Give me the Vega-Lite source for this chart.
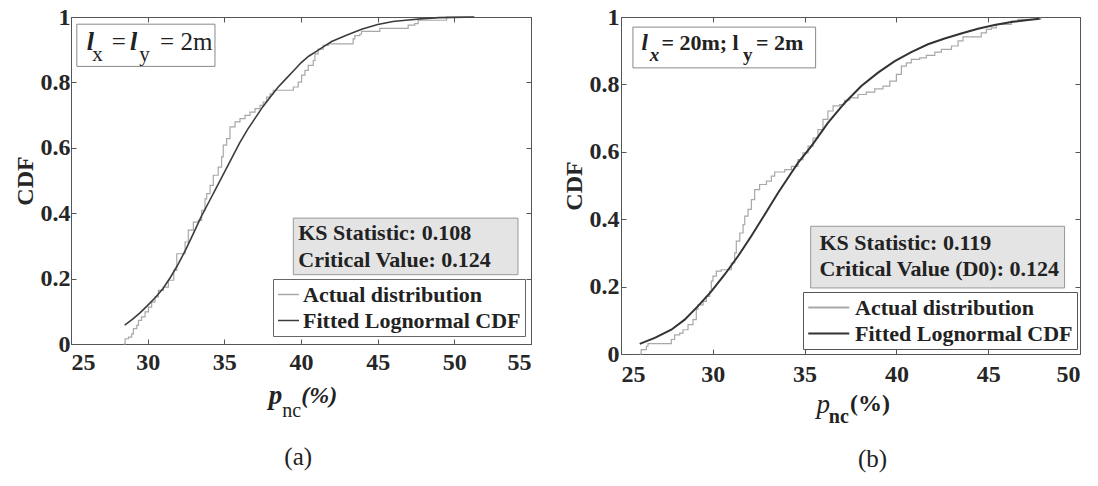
{
  "$schema": "https://vega.github.io/schema/vega-lite/v6.json",
  "background": "white",
  "padding": {"left": 12, "top": 4, "right": 5, "bottom": 5},
  "spacing": 29,
  "datasets": {
    "a_actual": [
      {"series":"Actual distribution","p":28.42,"cdf":0},{"series":"Actual distribution","p":28.53,"cdf":0.016},{"series":"Actual distribution","p":28.75,"cdf":0.021},{"series":"Actual distribution","p":28.96,"cdf":0.031},{"series":"Actual distribution","p":29.07,"cdf":0.047},{"series":"Actual distribution","p":29.29,"cdf":0.057},{"series":"Actual distribution","p":29.4,"cdf":0.072},{"series":"Actual distribution","p":29.6,"cdf":0.083},{"series":"Actual distribution","p":29.83,"cdf":0.098},{"series":"Actual distribution","p":30.05,"cdf":0.113},{"series":"Actual distribution","p":30.26,"cdf":0.128},{"series":"Actual distribution","p":30.48,"cdf":0.144},{"series":"Actual distribution","p":30.7,"cdf":0.164},{"series":"Actual distribution","p":31.03,"cdf":0.174},{"series":"Actual distribution","p":31.35,"cdf":0.195},{"series":"Actual distribution","p":31.7,"cdf":0.225},{"series":"Actual distribution","p":31.9,"cdf":0.276},{"series":"Actual distribution","p":32.44,"cdf":0.312},{"series":"Actual distribution","p":32.65,"cdf":0.348},{"series":"Actual distribution","p":32.98,"cdf":0.373},{"series":"Actual distribution","p":33.3,"cdf":0.378},{"series":"Actual distribution","p":33.52,"cdf":0.409},{"series":"Actual distribution","p":33.74,"cdf":0.444},{"series":"Actual distribution","p":33.85,"cdf":0.46},{"series":"Actual distribution","p":34.07,"cdf":0.485},{"series":"Actual distribution","p":34.28,"cdf":0.516},{"series":"Actual distribution","p":34.6,"cdf":0.541},{"series":"Actual distribution","p":34.82,"cdf":0.572},{"series":"Actual distribution","p":34.93,"cdf":0.608},{"series":"Actual distribution","p":35.15,"cdf":0.628},{"series":"Actual distribution","p":35.37,"cdf":0.664},{"series":"Actual distribution","p":35.7,"cdf":0.679},{"series":"Actual distribution","p":36.02,"cdf":0.689},{"series":"Actual distribution","p":36.35,"cdf":0.699},{"series":"Actual distribution","p":36.67,"cdf":0.709},{"series":"Actual distribution","p":37.0,"cdf":0.72},{"series":"Actual distribution","p":37.33,"cdf":0.73},{"series":"Actual distribution","p":37.54,"cdf":0.74},{"series":"Actual distribution","p":37.76,"cdf":0.755},{"series":"Actual distribution","p":37.98,"cdf":0.765},{"series":"Actual distribution","p":38.19,"cdf":0.776},{"series":"Actual distribution","p":39.5,"cdf":0.786},{"series":"Actual distribution","p":39.82,"cdf":0.801},{"series":"Actual distribution","p":40.04,"cdf":0.822},{"series":"Actual distribution","p":40.26,"cdf":0.837},{"series":"Actual distribution","p":40.47,"cdf":0.852},{"series":"Actual distribution","p":40.8,"cdf":0.867},{"series":"Actual distribution","p":40.91,"cdf":0.887},{"series":"Actual distribution","p":41.12,"cdf":0.902},{"series":"Actual distribution","p":41.45,"cdf":0.913},{"series":"Actual distribution","p":41.78,"cdf":0.918},{"series":"Actual distribution","p":43.4,"cdf":0.933},{"series":"Actual distribution","p":43.51,"cdf":0.943},{"series":"Actual distribution","p":43.84,"cdf":0.948},{"series":"Actual distribution","p":43.95,"cdf":0.956},{"series":"Actual distribution","p":45.14,"cdf":0.965},{"series":"Actual distribution","p":46.99,"cdf":0.975},{"series":"Actual distribution","p":47.42,"cdf":0.98},{"series":"Actual distribution","p":47.64,"cdf":0.99},{"series":"Actual distribution","p":49.49,"cdf":1.0},{"series":"Actual distribution","p":51.3,"cdf":1.0}
    ],
    "a_fit": [
      {"series":"Fitted Lognormal CDF","p":28.5,"cdf":0.058},{"series":"Fitted Lognormal CDF","p":29.0,"cdf":0.075},{"series":"Fitted Lognormal CDF","p":29.5,"cdf":0.095},{"series":"Fitted Lognormal CDF","p":30.0,"cdf":0.118},{"series":"Fitted Lognormal CDF","p":30.5,"cdf":0.142},{"series":"Fitted Lognormal CDF","p":31.0,"cdf":0.17},{"series":"Fitted Lognormal CDF","p":31.5,"cdf":0.205},{"series":"Fitted Lognormal CDF","p":32.0,"cdf":0.245},{"series":"Fitted Lognormal CDF","p":32.5,"cdf":0.29},{"series":"Fitted Lognormal CDF","p":33.0,"cdf":0.34},{"series":"Fitted Lognormal CDF","p":33.5,"cdf":0.39},{"series":"Fitted Lognormal CDF","p":34.0,"cdf":0.435},{"series":"Fitted Lognormal CDF","p":34.5,"cdf":0.48},{"series":"Fitted Lognormal CDF","p":35.0,"cdf":0.525},{"series":"Fitted Lognormal CDF","p":35.5,"cdf":0.57},{"series":"Fitted Lognormal CDF","p":36.0,"cdf":0.615},{"series":"Fitted Lognormal CDF","p":36.5,"cdf":0.655},{"series":"Fitted Lognormal CDF","p":37.0,"cdf":0.69},{"series":"Fitted Lognormal CDF","p":37.5,"cdf":0.725},{"series":"Fitted Lognormal CDF","p":38.0,"cdf":0.755},{"series":"Fitted Lognormal CDF","p":38.5,"cdf":0.785},{"series":"Fitted Lognormal CDF","p":39.0,"cdf":0.81},{"series":"Fitted Lognormal CDF","p":39.5,"cdf":0.835},{"series":"Fitted Lognormal CDF","p":40.0,"cdf":0.86},{"series":"Fitted Lognormal CDF","p":40.5,"cdf":0.88},{"series":"Fitted Lognormal CDF","p":41.0,"cdf":0.895},{"series":"Fitted Lognormal CDF","p":41.5,"cdf":0.91},{"series":"Fitted Lognormal CDF","p":42.0,"cdf":0.925},{"series":"Fitted Lognormal CDF","p":43.0,"cdf":0.945},{"series":"Fitted Lognormal CDF","p":44.0,"cdf":0.963},{"series":"Fitted Lognormal CDF","p":45.0,"cdf":0.977},{"series":"Fitted Lognormal CDF","p":46.0,"cdf":0.986},{"series":"Fitted Lognormal CDF","p":47.0,"cdf":0.991},{"series":"Fitted Lognormal CDF","p":48.0,"cdf":0.995},{"series":"Fitted Lognormal CDF","p":49.0,"cdf":0.998},{"series":"Fitted Lognormal CDF","p":50.0,"cdf":0.999},{"series":"Fitted Lognormal CDF","p":51.3,"cdf":1.0}
    ],
    "b_actual": [
      {"series":"Actual distribution","p":26.02,"cdf":0},{"series":"Actual distribution","p":26.1,"cdf":0.013},{"series":"Actual distribution","p":26.38,"cdf":0.023},{"series":"Actual distribution","p":26.47,"cdf":0.031},{"series":"Actual distribution","p":27.74,"cdf":0.043},{"series":"Actual distribution","p":27.92,"cdf":0.057},{"series":"Actual distribution","p":28.2,"cdf":0.062},{"series":"Actual distribution","p":28.38,"cdf":0.072},{"series":"Actual distribution","p":28.65,"cdf":0.087},{"series":"Actual distribution","p":28.92,"cdf":0.102},{"series":"Actual distribution","p":29.1,"cdf":0.132},{"series":"Actual distribution","p":29.19,"cdf":0.146},{"series":"Actual distribution","p":29.47,"cdf":0.156},{"series":"Actual distribution","p":29.65,"cdf":0.171},{"series":"Actual distribution","p":29.83,"cdf":0.186},{"series":"Actual distribution","p":29.92,"cdf":0.216},{"series":"Actual distribution","p":30.01,"cdf":0.231},{"series":"Actual distribution","p":30.19,"cdf":0.246},{"series":"Actual distribution","p":30.46,"cdf":0.25},{"series":"Actual distribution","p":31.01,"cdf":0.27},{"series":"Actual distribution","p":31.19,"cdf":0.3},{"series":"Actual distribution","p":31.28,"cdf":0.335},{"series":"Actual distribution","p":31.47,"cdf":0.359},{"series":"Actual distribution","p":31.65,"cdf":0.384},{"series":"Actual distribution","p":31.74,"cdf":0.409},{"series":"Actual distribution","p":31.92,"cdf":0.429},{"series":"Actual distribution","p":32.1,"cdf":0.458},{"series":"Actual distribution","p":32.28,"cdf":0.488},{"series":"Actual distribution","p":32.55,"cdf":0.503},{"series":"Actual distribution","p":32.92,"cdf":0.513},{"series":"Actual distribution","p":33.19,"cdf":0.528},{"series":"Actual distribution","p":33.37,"cdf":0.54},{"series":"Actual distribution","p":33.92,"cdf":0.547},{"series":"Actual distribution","p":34.28,"cdf":0.557},{"series":"Actual distribution","p":34.64,"cdf":0.577},{"series":"Actual distribution","p":34.91,"cdf":0.597},{"series":"Actual distribution","p":35.19,"cdf":0.617},{"series":"Actual distribution","p":35.46,"cdf":0.641},{"series":"Actual distribution","p":35.73,"cdf":0.666},{"series":"Actual distribution","p":36.0,"cdf":0.696},{"series":"Actual distribution","p":36.27,"cdf":0.721},{"series":"Actual distribution","p":36.55,"cdf":0.736},{"series":"Actual distribution","p":36.91,"cdf":0.74},{"series":"Actual distribution","p":37.18,"cdf":0.753},{"series":"Actual distribution","p":37.46,"cdf":0.76},{"series":"Actual distribution","p":37.91,"cdf":0.77},{"series":"Actual distribution","p":38.36,"cdf":0.777},{"series":"Actual distribution","p":38.82,"cdf":0.787},{"series":"Actual distribution","p":39.27,"cdf":0.795},{"series":"Actual distribution","p":39.64,"cdf":0.81},{"series":"Actual distribution","p":40.0,"cdf":0.83},{"series":"Actual distribution","p":40.27,"cdf":0.854},{"series":"Actual distribution","p":40.54,"cdf":0.864},{"series":"Actual distribution","p":40.81,"cdf":0.874},{"series":"Actual distribution","p":41.27,"cdf":0.879},{"series":"Actual distribution","p":41.63,"cdf":0.886},{"series":"Actual distribution","p":42.09,"cdf":0.896},{"series":"Actual distribution","p":42.45,"cdf":0.904},{"series":"Actual distribution","p":43.0,"cdf":0.914},{"series":"Actual distribution","p":43.36,"cdf":0.929},{"series":"Actual distribution","p":43.63,"cdf":0.941},{"series":"Actual distribution","p":44.62,"cdf":0.953},{"series":"Actual distribution","p":44.9,"cdf":0.963},{"series":"Actual distribution","p":45.17,"cdf":0.968},{"series":"Actual distribution","p":45.44,"cdf":0.978},{"series":"Actual distribution","p":46.26,"cdf":0.988},{"series":"Actual distribution","p":46.62,"cdf":0.993},{"series":"Actual distribution","p":47.86,"cdf":0.998}
    ],
    "b_fit": [
      {"series":"Fitted Lognormal CDF","p":26.02,"cdf":0.03},{"series":"Fitted Lognormal CDF","p":26.84,"cdf":0.048},{"series":"Fitted Lognormal CDF","p":27.74,"cdf":0.072},{"series":"Fitted Lognormal CDF","p":28.47,"cdf":0.102},{"series":"Fitted Lognormal CDF","p":29.19,"cdf":0.142},{"series":"Fitted Lognormal CDF","p":29.92,"cdf":0.186},{"series":"Fitted Lognormal CDF","p":30.65,"cdf":0.236},{"series":"Fitted Lognormal CDF","p":31.37,"cdf":0.29},{"series":"Fitted Lognormal CDF","p":32.1,"cdf":0.35},{"series":"Fitted Lognormal CDF","p":32.83,"cdf":0.414},{"series":"Fitted Lognormal CDF","p":33.55,"cdf":0.478},{"series":"Fitted Lognormal CDF","p":34.28,"cdf":0.538},{"series":"Fitted Lognormal CDF","p":34.64,"cdf":0.567},{"series":"Fitted Lognormal CDF","p":35.37,"cdf":0.617},{"series":"Fitted Lognormal CDF","p":36.27,"cdf":0.686},{"series":"Fitted Lognormal CDF","p":37.18,"cdf":0.745},{"series":"Fitted Lognormal CDF","p":38.09,"cdf":0.795},{"series":"Fitted Lognormal CDF","p":39.0,"cdf":0.835},{"series":"Fitted Lognormal CDF","p":39.91,"cdf":0.869},{"series":"Fitted Lognormal CDF","p":40.81,"cdf":0.896},{"series":"Fitted Lognormal CDF","p":41.72,"cdf":0.919},{"series":"Fitted Lognormal CDF","p":42.63,"cdf":0.936},{"series":"Fitted Lognormal CDF","p":43.53,"cdf":0.951},{"series":"Fitted Lognormal CDF","p":44.44,"cdf":0.965},{"series":"Fitted Lognormal CDF","p":45.35,"cdf":0.976},{"series":"Fitted Lognormal CDF","p":46.26,"cdf":0.985},{"series":"Fitted Lognormal CDF","p":47.17,"cdf":0.991},{"series":"Fitted Lognormal CDF","p":47.8,"cdf":0.995}
    ]
  },
  "hconcat": [
    {
      "width": 460,
      "height": 327,
      "layer": [
        {"data":{"values":[{}]},"mark":{"type":"rect","fill":"#e4e4e4","stroke":"#999999","strokeWidth":1},
         "encoding":{"x":{"datum":39.5,"type":"quantitative","axis":{"orient":"top","labels":false,"title":null,"values":[25,30,35,40,45,50,55]}},"x2":{"datum":54.15},
                     "y":{"datum":0.385,"type":"quantitative","axis":{"orient":"right","labels":false,"title":null,"values":[0,0.2,0.4,0.6,0.8,1]}},"y2":{"datum":0.212}}},
        {"data":{"values":[{}]},"mark":{"type":"text","text":["KS Statistic: 0.108","Critical Value: 0.124"],"fontSize":22,"fontWeight":"bold","align":"left","baseline":"alphabetic","lineHeight":26.7},
         "encoding":{"x":{"datum":39.82,"type":"quantitative","axis":null},"y":{"datum":0.317,"type":"quantitative","axis":null}}},
        {"data":{"values":[{}]},"mark":{"type":"rect","fill":"white","stroke":"#888888","strokeWidth":1},
         "encoding":{"x":{"datum":25.38,"type":"quantitative","axis":null},"x2":{"datum":34.39},"y":{"datum":0.978,"type":"quantitative","axis":null},"y2":{"datum":0.849}}},
        {"data":{"values":[{}]},"mark":{"type":"text","text":"l","fontSize":26,"fontWeight":"bold","fontStyle":"italic","align":"left","baseline":"alphabetic"},
         "encoding":{"x":{"datum":26.03,"type":"quantitative","axis":null},"y":{"datum":0.9,"type":"quantitative","axis":null}}},
        {"data":{"values":[{}]},"mark":{"type":"text","text":"x","fontSize":21,"align":"left","baseline":"alphabetic"},
         "encoding":{"x":{"datum":26.39,"type":"quantitative","axis":null},"y":{"datum":0.8645,"type":"quantitative","axis":null}}},
        {"data":{"values":[{}]},"mark":{"type":"text","text":"=","fontSize":25,"align":"left","baseline":"alphabetic"},
         "encoding":{"x":{"datum":27.65,"type":"quantitative","axis":null},"y":{"datum":0.9,"type":"quantitative","axis":null}}},
        {"data":{"values":[{}]},"mark":{"type":"text","text":"l","fontSize":26,"fontWeight":"bold","fontStyle":"italic","align":"left","baseline":"alphabetic"},
         "encoding":{"x":{"datum":28.85,"type":"quantitative","axis":null},"y":{"datum":0.9,"type":"quantitative","axis":null}}},
        {"data":{"values":[{}]},"mark":{"type":"text","text":"y","fontSize":21,"align":"left","baseline":"alphabetic"},
         "encoding":{"x":{"datum":29.45,"type":"quantitative","axis":null},"y":{"datum":0.8645,"type":"quantitative","axis":null}}},
        {"data":{"values":[{}]},"mark":{"type":"text","text":"= 2m","fontSize":25,"align":"left","baseline":"alphabetic"},
         "encoding":{"x":{"datum":30.81,"type":"quantitative","axis":null},"y":{"datum":0.9,"type":"quantitative","axis":null}}},
        {"data":{"name":"a_actual"},"mark":{"type":"line","interpolate":"step-after","strokeWidth":1.2},
         "encoding":{
           "x":{"field":"p","type":"quantitative","scale":{"domain":[25,55],"nice":false,"zero":false},"axis":{"orient":"bottom","values":[25,30,35,40,45,50,55],"title":null,"labelPadding":11}},
           "y":{"field":"cdf","type":"quantitative","scale":{"domain":[0,1],"nice":false,"zero":false},"axis":{"orient":"left","values":[0,0.2,0.4,0.6,0.8,1],"format":"~g","title":"CDF","titlePadding":3,"labelPadding":6}},
           "color":{"field":"series","type":"nominal","scale":{"domain":["Actual distribution","Fitted Lognormal CDF"],"range":["#a8a8a8","#3c3c3c"]},
             "legend":{"title":null,"orient":"none","legendX":202,"legendY":262,"symbolType":"stroke","symbolSize":441,"symbolStrokeWidth":1.5,"labelFont":"Liberation Serif","labelFontSize":22,"labelFontWeight":"bold","labelColor":"#222222","labelOffset":3,"padding":4,"rowPadding":3,"strokeColor":"#666666","fillColor":"white","labelLimit":400}}}},
        {"data":{"name":"a_fit"},"mark":{"type":"line","strokeWidth":1.6},
         "encoding":{
           "x":{"field":"p","type":"quantitative","axis":null},
           "y":{"field":"cdf","type":"quantitative","axis":null},
           "color":{"field":"series","type":"nominal"}}},
        {"data":{"values":[{}]},"mark":{"type":"text","text":"p","fontSize":27,"fontWeight":"bold","fontStyle":"italic","align":"left","baseline":"alphabetic"},
         "encoding":{"x":{"datum":37.9,"type":"quantitative","axis":null},"y":{"datum":-0.183,"type":"quantitative","axis":null}}},
        {"data":{"values":[{}]},"mark":{"type":"text","text":"nc","fontSize":20,"align":"left","baseline":"alphabetic"},
         "encoding":{"x":{"datum":38.78,"type":"quantitative","axis":null},"y":{"datum":-0.223,"type":"quantitative","axis":null}}},
        {"data":{"values":[{}]},"mark":{"type":"text","text":"(%)","fontSize":24,"fontWeight":"bold","fontStyle":"italic","align":"left","baseline":"alphabetic"},
         "encoding":{"x":{"datum":40.02,"type":"quantitative","axis":null},"y":{"datum":-0.18,"type":"quantitative","axis":null}}},
        {"data":{"values":[{}]},"mark":{"type":"text","text":"(a)","fontSize":25,"align":"center","baseline":"alphabetic"},
         "encoding":{"x":{"datum":39.82,"type":"quantitative","axis":null},"y":{"datum":-0.37,"type":"quantitative","axis":null}}}
      ],
      "resolve": {"axis": {"x": "independent", "y": "independent"}}
    },
    {
      "width": 459,
      "height": 337,
      "layer": [
        {"data":{"values":[{}]},"mark":{"type":"rect","fill":"#e4e4e4","stroke":"#999999","strokeWidth":1},
         "encoding":{"x":{"datum":35.33,"type":"quantitative","axis":{"orient":"top","labels":false,"title":null,"values":[25,30,35,40,45,50]}},"x2":{"datum":49.16},
                     "y":{"datum":0.379,"type":"quantitative","axis":{"orient":"right","labels":false,"title":null,"values":[0,0.2,0.4,0.6,0.8,1]}},"y2":{"datum":0.196}}},
        {"data":{"values":[{}]},"mark":{"type":"text","text":["KS Statistic: 0.119","Critical Value (D0): 0.124"],"fontSize":22,"fontWeight":"bold","align":"left","baseline":"alphabetic","lineHeight":26.7},
         "encoding":{"x":{"datum":35.81,"type":"quantitative","axis":null},"y":{"datum":0.31,"type":"quantitative","axis":null}}},
        {"data":{"values":[{}]},"mark":{"type":"rect","fill":"white","stroke":"#888888","strokeWidth":1},
         "encoding":{"x":{"datum":25.65,"type":"quantitative","axis":null},"x2":{"datum":35.6},"y":{"datum":0.97,"type":"quantitative","axis":null},"y2":{"datum":0.849}}},
        {"data":{"values":[{}]},"mark":{"type":"text","text":"l","fontSize":23,"fontWeight":"bold","fontStyle":"italic","align":"left","baseline":"alphabetic"},
         "encoding":{"x":{"datum":26.11,"type":"quantitative","axis":null},"y":{"datum":0.902,"type":"quantitative","axis":null}}},
        {"data":{"values":[{}]},"mark":{"type":"text","text":"x","fontSize":19,"fontWeight":"bold","fontStyle":"italic","align":"left","baseline":"alphabetic"},
         "encoding":{"x":{"datum":26.56,"type":"quantitative","axis":null},"y":{"datum":0.869,"type":"quantitative","axis":null}}},
        {"data":{"values":[{}]},"mark":{"type":"text","text":"= 20m; l","fontSize":22,"fontWeight":"bold","align":"left","baseline":"alphabetic"},
         "encoding":{"x":{"datum":27.2,"type":"quantitative","axis":null},"y":{"datum":0.902,"type":"quantitative","axis":null}}},
        {"data":{"values":[{}]},"mark":{"type":"text","text":"y","fontSize":19,"fontWeight":"bold","align":"left","baseline":"alphabetic"},
         "encoding":{"x":{"datum":31.64,"type":"quantitative","axis":null},"y":{"datum":0.869,"type":"quantitative","axis":null}}},
        {"data":{"values":[{}]},"mark":{"type":"text","text":"= 2m","fontSize":22,"fontWeight":"bold","align":"left","baseline":"alphabetic"},
         "encoding":{"x":{"datum":32.35,"type":"quantitative","axis":null},"y":{"datum":0.902,"type":"quantitative","axis":null}}},
        {"data":{"name":"b_actual"},"mark":{"type":"line","interpolate":"step-after","strokeWidth":1.2},
         "encoding":{
           "x":{"field":"p","type":"quantitative","scale":{"domain":[25,50],"nice":false,"zero":false},"axis":{"orient":"bottom","values":[25,30,35,40,45,50],"title":null,"labelPadding":13}},
           "y":{"field":"cdf","type":"quantitative","scale":{"domain":[0,1],"nice":false,"zero":false},"axis":{"orient":"left","values":[0,0.2,0.4,0.6,0.8,1],"format":"~g","title":"CDF","titlePadding":3,"labelPadding":7}},
           "color":{"field":"series","type":"nominal","scale":{"domain":["Actual distribution","Fitted Lognormal CDF"],"range":["#a8a8a8","#333333"]},
             "legend":{"title":null,"orient":"none","legendX":182,"legendY":275,"symbolType":"M-1,0H3","symbolSize":420,"symbolStrokeWidth":2,"labelFont":"Liberation Serif","labelFontSize":22,"labelFontWeight":"bold","labelColor":"#222222","labelOffset":25,"padding":4,"rowPadding":3,"strokeColor":"#555555","fillColor":"white","labelLimit":400}}}},
        {"data":{"name":"b_fit"},"mark":{"type":"line","strokeWidth":2},
         "encoding":{
           "x":{"field":"p","type":"quantitative","axis":null},
           "y":{"field":"cdf","type":"quantitative","axis":null},
           "color":{"field":"series","type":"nominal"}}},
        {"data":{"values":[{}]},"mark":{"type":"text","text":"p","fontSize":27,"fontStyle":"italic","align":"left","baseline":"alphabetic"},
         "encoding":{"x":{"datum":35.65,"type":"quantitative","axis":null},"y":{"datum":-0.175,"type":"quantitative","axis":null}}},
        {"data":{"values":[{}]},"mark":{"type":"text","text":"nc","fontSize":20,"fontWeight":"bold","align":"left","baseline":"alphabetic"},
         "encoding":{"x":{"datum":36.32,"type":"quantitative","axis":null},"y":{"datum":-0.205,"type":"quantitative","axis":null}}},
        {"data":{"values":[{}]},"mark":{"type":"text","text":"(%)","fontSize":24,"fontWeight":"bold","align":"left","baseline":"alphabetic"},
         "encoding":{"x":{"datum":37.47,"type":"quantitative","axis":null},"y":{"datum":-0.169,"type":"quantitative","axis":null}}},
        {"data":{"values":[{}]},"mark":{"type":"text","text":"(b)","fontSize":25,"align":"center","baseline":"alphabetic"},
         "encoding":{"x":{"datum":38.7,"type":"quantitative","axis":null},"y":{"datum":-0.335,"type":"quantitative","axis":null}}}
      ],
      "resolve": {"axis": {"x": "independent", "y": "independent"}}
    }
  ],
  "resolve": {"scale": {"color": "independent"}, "legend": {"color": "independent"}},
  "config": {
    "view": {"stroke": "#555555", "strokeWidth": 1},
    "axis": {"labelFont": "Liberation Serif", "labelFontSize": 24, "labelFontWeight": "bold", "labelColor": "#262626", "titleFont": "Liberation Serif", "titleFontSize": 24, "titleFontWeight": "bold", "titleColor": "#262626", "domain": false, "grid": false, "tickColor": "#555555", "tickSize": -5},
    "text": {"font": "Liberation Serif", "color": "#222222"}
  }
}
